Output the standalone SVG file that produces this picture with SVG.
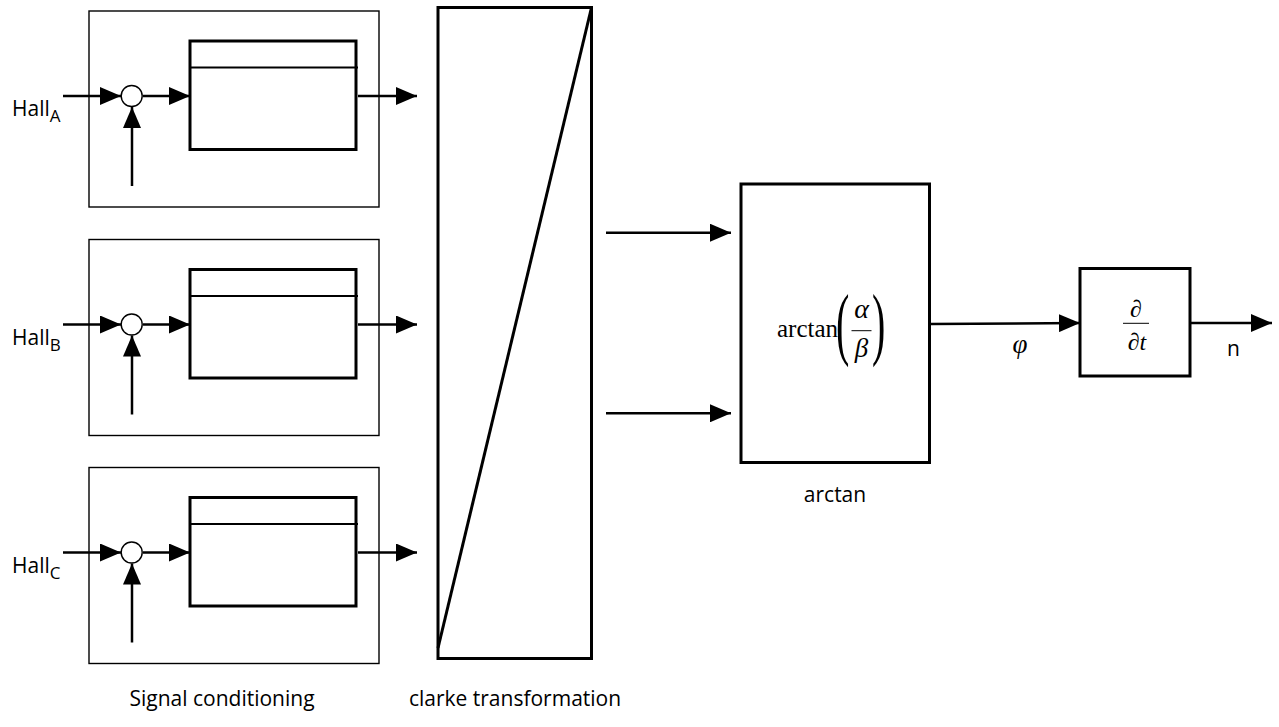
<svg xmlns="http://www.w3.org/2000/svg" width="1279" height="727" viewBox="0 0 1279 727">
<style>
.outer{fill:none;stroke:#000;stroke-width:1.4}
.inner{fill:none;stroke:#000;stroke-width:3}
.thick{fill:none;stroke:#000;stroke-width:3}
.div{stroke:#000;stroke-width:2}
.wire{fill:none;stroke:#000;stroke-width:2.5}
.sum{fill:#fff;stroke:#000;stroke-width:1.4}
.lbl{font-family:"Open Sans","Liberation Sans",sans-serif;font-size:21px;fill:#000}
.sub{font-family:"Open Sans","Liberation Sans",sans-serif;font-size:17px;fill:#000}
.math{font-family:"Liberation Serif","Times New Roman",serif;fill:#000}
.mi{font-family:"Liberation Serif","Times New Roman",serif;font-style:italic;fill:#000}
</style>
<defs>
<marker id="ah" markerUnits="userSpaceOnUse" markerWidth="22" markerHeight="18" refX="21" refY="9" orient="auto">
<path d="M0,0 L21,9 L0,18 z" fill="#000"/>
</marker>
<g id="cond">
<rect class="outer" x="89" y="11" width="290" height="196"/>
<rect class="inner" x="190" y="41" width="166" height="108.5"/>
<line class="div" x1="190" y1="67.5" x2="358" y2="67.5"/>
<circle class="sum" cx="131.7" cy="96" r="10.5"/>
</g>
</defs>

<g id="signal-conditioning-A"><use href="#cond"/>
<text class="lbl" x="12" y="116">Hall<tspan class="sub" dy="6">A</tspan></text></g>
<g id="signal-conditioning-B"><use href="#cond" transform="translate(0,228.5)"/>
<text class="lbl" x="12" y="344.5">Hall<tspan class="sub" dy="6">B</tspan></text></g>
<g id="signal-conditioning-C"><use href="#cond" transform="translate(0,456.5)"/>
<text class="lbl" x="12" y="572.5">Hall<tspan class="sub" dy="6">C</tspan></text></g>

<g id="clarke">
<rect class="thick" x="438" y="7.5" width="153.5" height="651"/>
<line class="thick" x1="591.5" y1="7.5" x2="438" y2="648"/>
</g>

<g id="arctan">
<rect class="thick" x="741" y="184" width="188.5" height="278.5"/>
<text class="math" x="777" y="337" font-size="25">arctan</text>
<text class="math" transform="translate(836,350) scale(0.5,1)" font-size="80">(</text>
<text class="math" transform="translate(872,350) scale(0.5,1)" font-size="80">)</text>
<text class="mi" x="861.5" y="318" font-size="28" text-anchor="middle">α</text>
<line x1="851.5" y1="330.7" x2="871.5" y2="330.7" stroke="#000" stroke-width="1"/>
<text class="mi" x="861.5" y="357" font-size="27" text-anchor="middle">β</text>
</g>

<g id="derivative">
<rect class="thick" x="1080" y="268.5" width="110" height="107.5"/>
<text class="math" x="1136" y="316.5" font-size="24" text-anchor="middle">∂</text>
<line x1="1123" y1="323.3" x2="1149" y2="323.3" stroke="#000" stroke-width="1"/>
<text class="math" x="1137" y="350" font-size="24" text-anchor="middle">∂<tspan font-style="italic">t</tspan></text>
</g>

<g id="connectors">
<g id="wires-A">
<line class="wire" x1="63" y1="96" x2="121" y2="96" marker-end="url(#ah)"/>
<line class="wire" x1="143" y1="96" x2="190" y2="96" marker-end="url(#ah)"/>
<line class="wire" x1="132" y1="186" x2="132" y2="107" marker-end="url(#ah)"/>
<line class="wire" x1="358" y1="96" x2="417" y2="96" marker-end="url(#ah)"/>
</g>
<g transform="translate(0,228.5)">
<line class="wire" x1="63" y1="96" x2="121" y2="96" marker-end="url(#ah)"/>
<line class="wire" x1="143" y1="96" x2="190" y2="96" marker-end="url(#ah)"/>
<line class="wire" x1="132" y1="186" x2="132" y2="107" marker-end="url(#ah)"/>
<line class="wire" x1="358" y1="96" x2="417" y2="96" marker-end="url(#ah)"/>
</g>
<g transform="translate(0,456.5)">
<line class="wire" x1="63" y1="96" x2="121" y2="96" marker-end="url(#ah)"/>
<line class="wire" x1="143" y1="96" x2="190" y2="96" marker-end="url(#ah)"/>
<line class="wire" x1="132" y1="186" x2="132" y2="107" marker-end="url(#ah)"/>
<line class="wire" x1="358" y1="96" x2="417" y2="96" marker-end="url(#ah)"/>
</g>
<line class="wire" x1="606" y1="232.7" x2="731" y2="232.7" marker-end="url(#ah)"/>
<line class="wire" x1="606" y1="413.3" x2="731" y2="413.3" marker-end="url(#ah)"/>
<line class="wire" x1="930" y1="324" x2="1080" y2="323" marker-end="url(#ah)"/>
<line class="wire" x1="1190" y1="323" x2="1272" y2="323" marker-end="url(#ah)"/>
</g>

<text class="mi" x="1020" y="353" font-size="27" text-anchor="middle">φ</text>
<text class="lbl" x="1227" y="356">n</text>
<text class="lbl" x="835" y="502" text-anchor="middle" font-size="23">arctan</text>
<text class="lbl" x="222" y="706" text-anchor="middle">Signal conditioning</text>
<text class="lbl" x="515" y="706" text-anchor="middle">clarke transformation</text>
</svg>
